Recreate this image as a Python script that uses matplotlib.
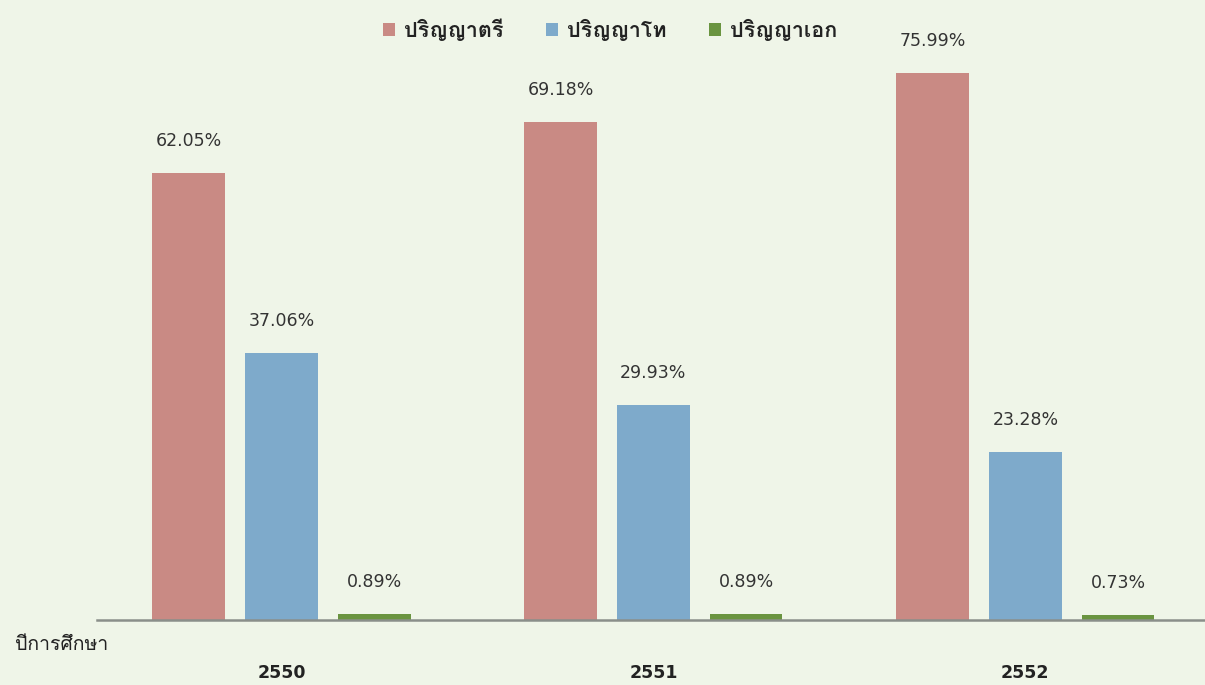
import matplotlib
matplotlib.use("Agg")
import matplotlib.pyplot as plt
from matplotlib import font_manager
from matplotlib.ft2font import FT2Font
import numpy as np

years = ["2550", "2551", "2552"]
series_names = ["ปริญญาตรี", "ปริญญาโท", "ปริญญาเอก"]
bachelor = [62.05, 69.18, 75.99]
master = [37.06, 29.93, 23.28]
doctor = [0.89, 0.89, 0.73]
xlabel_text = "ปีการศึกษา"

colors = ["#c98a84", "#7eaacb", "#6a9440"]

# find fonts with Thai glyphs, choose deterministically
cands = set()
for f in font_manager.fontManager.ttflist:
    try:
        ft = FT2Font(f.fname)
        if ft.get_char_index(0x0E1B) and ft.get_char_index(0x0E0D) and ft.get_char_index(0x0E28):
            cands.add(f.name)
    except Exception:
        pass
cands = sorted(cands)
thai_font = None
for key in ["Tahoma", "Loma", "Looped", "Garuda", "Sarabun", "Noto Sans Thai", "Sans"]:
    m = [c for c in cands if key in c]
    if m:
        thai_font = m[0]
        break
if thai_font is None and cands:
    thai_font = cands[0]
fams = [thai_font, "DejaVu Sans"] if thai_font else ["DejaVu Sans"]
plt.rcParams["font.family"] = fams

fig = plt.figure(figsize=(12.05, 6.85), dpi=100)
bg = "#eff5e8"
fig.patch.set_facecolor(bg)
ax = fig.add_axes([97 / 1205, 65 / 685, 1 - 97 / 1205, 576 / 685])
ax.set_facecolor(bg)

x = np.arange(len(years))
step = 0.249
width = 0.196
data = [bachelor, master, doctor]
for i, (vals, name, c) in enumerate(zip(data, series_names, colors)):
    pos = x + (i - 1) * step
    ax.bar(pos, vals, width=width, color=c, label=name, zorder=2)
    for px, v in zip(pos, vals):
        ax.annotate(f"{v:.2f}%", (px, v), xytext=(0, 23), textcoords="offset points",
                    ha="center", va="center", fontsize=12.5, color="#333333",
                    family="DejaVu Sans")

ax.set_xlim(-0.496, 2.483)
ax.set_ylim(0, 80)
for s in ["top", "right", "left"]:
    ax.spines[s].set_visible(False)
ax.spines["bottom"].set_color("#8a8f8a")
ax.spines["bottom"].set_linewidth(1.8)
ax.spines["bottom"].set_zorder(3)
ax.set_yticks([])
ax.set_xticks(x)
ax.set_xticklabels(years, fontsize=12.5, color="#222222", fontweight="bold",
                   family="DejaVu Sans")
ax.tick_params(axis="x", length=0, pad=32)

fig.text(15 / 1205, 1 - 645 / 685, xlabel_text, fontsize=14, color="#222222",
         ha="left", va="center")

leg = fig.legend(loc="center", bbox_to_anchor=(610 / 1205, 1 - 30 / 685), ncol=3,
                 frameon=False, fontsize=15.5, handlelength=0.55, handleheight=0.55,
                 handletextpad=0.4, columnspacing=2.0)
for t in leg.get_texts():
    t.set_color("#222222")
    t.set_fontweight("bold")

fig.savefig("out.png", dpi=100, facecolor=bg)
